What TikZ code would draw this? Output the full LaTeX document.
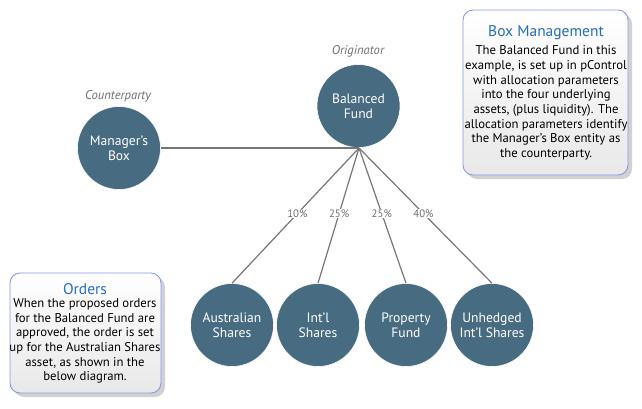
\documentclass[tikz,border=0pt]{standalone}
\usepackage{fontspec}
\setmainfont{PT Sans}
\usetikzlibrary{positioning}
\definecolor{circfill}{RGB}{71,107,128}
\definecolor{linegray}{RGB}{118,118,118}
\definecolor{labgray}{RGB}{110,110,110}
\definecolor{boxborder}{RGB}{130,155,225}
\definecolor{boxtitle}{RGB}{35,110,190}
\definecolor{boxbot}{RGB}{232,232,232}
\tikzset{
  asset/.style={circle, fill=circfill, draw=white, line width=0.6pt, minimum size=83pt, inner sep=0pt, align=center, text=white, font=\fontsize{13.6}{15}\selectfont},
  role/.style={text=labgray, font=\fontsize{12.6}{14}\selectfont\itshape, inner sep=0pt},
  link/.style={draw=linegray, line width=1.2pt},
  pct/.style={fill=white, text=labgray, font=\fontsize{10.8}{12}\selectfont, inner sep=1pt},
  infobox/.style={draw=boxborder, line width=0.9pt, rounded corners=10pt, top color=white, bottom color=boxbot},
  boxshadow/.style={fill=black, opacity=0.18, rounded corners=10pt},
  boxhead/.style={text=boxtitle, font=\fontsize{15.5}{17}\selectfont, inner sep=0pt},
  boxbody/.style={text=black, align=center, font=\fontsize{12.7}{14.7}\selectfont, inner sep=0pt}
}
\begin{document}
\begin{tikzpicture}[x=1pt,y=-1pt]
\useasboundingbox (0,0) rectangle (642,408);
% info boxes
\fill[boxshadow] (467,14) rectangle (632,179);
\path[infobox] (463,10) rectangle (628,175);
\node[boxhead] (bmtitle) at (546,33) {Box Management};
\node[boxbody] (bmbody) at (546,103) {The Balanced Fund in this\\example, is set up in pControl\\with allocation parameters\\into the four underlying\\assets, (plus liquidity). The\\allocation parameters identify\\the Manager's Box entity as\\the counterparty.};
\fill[boxshadow] (14,277) rectangle (165,397);
\path[infobox] (10,273) rectangle (161,393);
\node[boxhead] (ortitle) at (85,289) {Orders};
\node[boxbody] (orbody) at (85,341) {When the proposed orders\\for the Balanced Fund are\\approved, the order is set\\up for the Australian Shares\\asset, as shown in the\\below diagram.};
% nodes
\node[asset] (bf) at (358.5,106) {Balanced\\Fund};
\node[asset] (mb) at (119,148) {Manager's\\Box};
\node[asset] (as) at (232,325) {Australian\\Shares};
\node[asset] (is) at (318,325) {Int'l\\Shares};
\node[asset] (pf) at (406,325) {Property\\Fund};
\node[asset] (ui) at (492,325) {Unhedged\\Int'l Shares};
\node[role] (orig) at (358,51) {Originator};
\node[role] (cp) at (118,96) {Counterparty};
\coordinate (hub) at (359,148);
% connectors
\draw[link] (mb.east) -- (hub);
\draw[link] (hub) -- (as.north) node[pct, pos=0.485] (p1) {10\%};
\draw[link] (hub) -- (is.north) node[pct, pos=0.485] (p2) {25\%};
\draw[link] (hub) -- (pf.north) node[pct, pos=0.485] (p3) {25\%};
\draw[link] (hub) -- (ui.north) node[pct, pos=0.485] (p4) {40\%};
\end{tikzpicture}
\end{document}
